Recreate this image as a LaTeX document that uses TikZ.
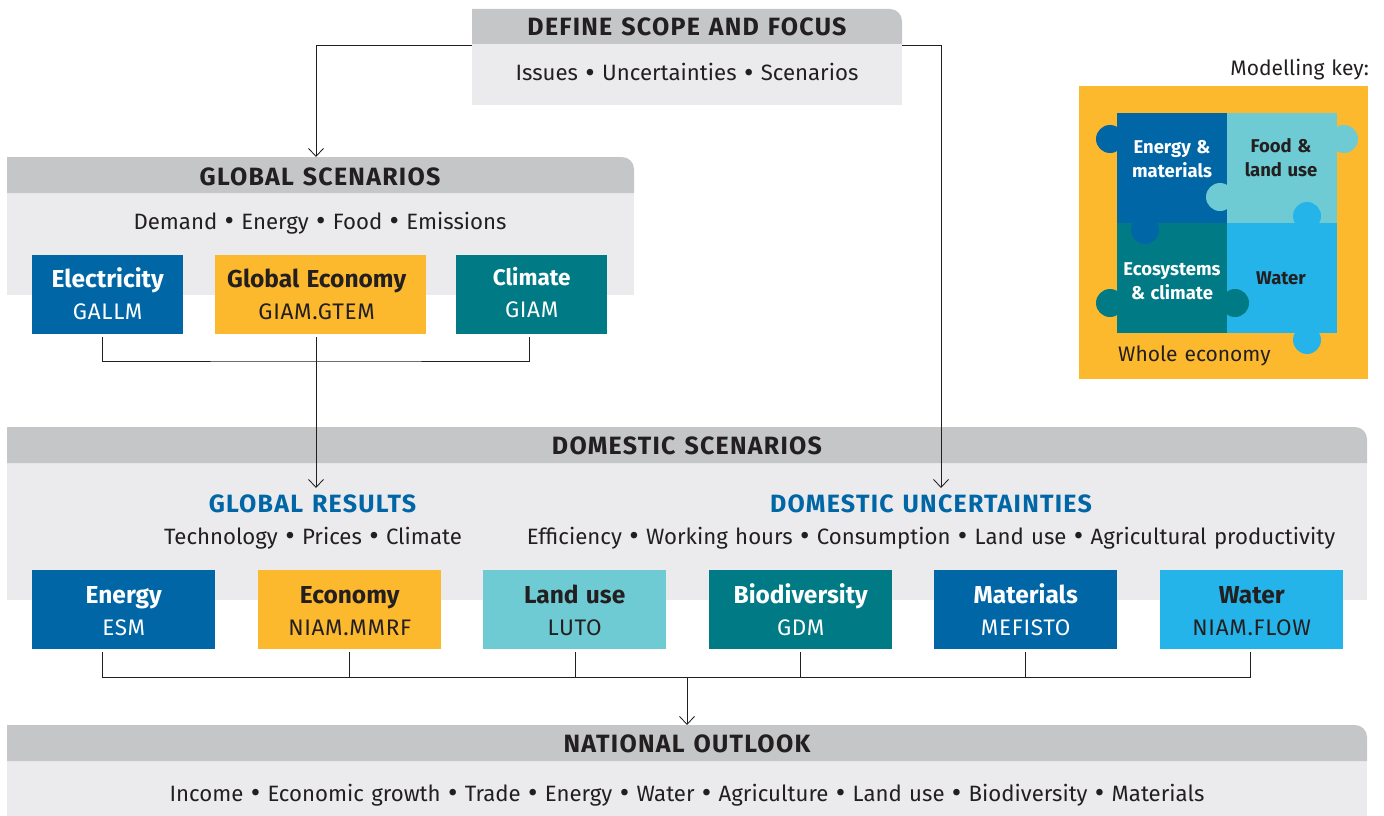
\documentclass[tikz,border=0pt]{standalone}
\usepackage{fontspec}
\setmainfont[WordSpace=1.25]{Fira Sans}
\usetikzlibrary{arrows.meta}
\definecolor{headgrey}{HTML}{C5C6C8}
\definecolor{bodygrey}{HTML}{EBEBEE}
\definecolor{inkdark}{HTML}{231F20}
\definecolor{deepblue}{HTML}{0066A6}
\definecolor{amber}{HTML}{FDB92E}
\definecolor{paleteal}{HTML}{6FCBD3}
\definecolor{seateal}{HTML}{007A85}
\definecolor{skyblue}{HTML}{25B4E9}
\newcommand{\bul}{\raisebox{-1.5pt}{\fontsize{29}{29}\selectfont •}}
\begin{document}
\begin{tikzpicture}[x=1pt, y=-1pt, >={Straight Barb[length=8pt,width=15pt]}]
      \tikzset{
  panelbody/.style={
    rectangle,
    fill=bodygrey,
    inner sep=0pt,
    anchor=north west
  },
  panelhead/.style={
    text=inkdark,
    inner sep=0pt,
    anchor=base,
    font=\fontsize{25}{29}\selectfont\bfseries\addfontfeature{LetterSpace=5}
  },
  paneltext/.style={
    text=inkdark,
    inner sep=0pt,
    anchor=base,
    font=\fontsize{22.2}{26}\selectfont
  },
  resulthead/.style={
    text=deepblue,
    inner sep=0pt,
    anchor=base,
    font=\fontsize{25}{29}\selectfont\bfseries\addfontfeature{LetterSpace=5}
  },
  modelbox/.style={
    rectangle,
    inner sep=0pt,
    anchor=north west,
    minimum height=79pt
  },
  modeltitle/.style={
    inner sep=0pt,
    anchor=base,
    font=\fontsize{24.5}{29}\selectfont\bfseries
  },
  modelname/.style={
    inner sep=0pt,
    anchor=base,
    font=\fontsize{22.5}{26}\selectfont\addfontfeature{LetterSpace=3}
  },
  keysquare/.style={
    rectangle,
    inner sep=0pt,
    minimum size=110pt,
    anchor=north west
  },
  keypeg/.style={
    circle,
    inner sep=0pt,
    minimum size=28pt
  },
  keytext/.style={
    inner sep=0pt,
    align=center,
    font=\fontsize{18.5}{24}\selectfont\bfseries
  },
  keynote/.style={
    inner sep=0pt,
    anchor=base,
    text=inkdark,
    font=\fontsize{21}{25}\selectfont
  },
  link/.style={
    draw=inkdark,
    line width=0.85pt
  }
}

\useasboundingbox (0,0) rectangle (1384,816);

% panels
\foreach \m/\x/\y/\w/\h in {scope/472/44/430/61,global/7/193/627/102,domestic/7/463/1360/137,outlook/7/761/1360/55}
  \node [panelbody, minimum width=\w, minimum height=\h] (\m-body) at (\x,\y) {};

\fill [headgrey] (472,44) -- (472,9) [rounded corners=12pt] -- (902,9) [sharp corners] -- (902,44) -- cycle;
\fill [headgrey] (7,193) -- (7,157) [rounded corners=12pt] -- (634,157) [sharp corners] -- (634,193) -- cycle;
\fill [headgrey] (7,463) -- (7,427) [rounded corners=12pt] -- (1367,427) [sharp corners] -- (1367,463) -- cycle;
\fill [headgrey] (7,761) -- (7,725) [rounded corners=12pt] -- (1367,725) [sharp corners] -- (1367,761) -- cycle;

\node [panelhead] (scope-head) at (687,36) {DEFINE SCOPE AND FOCUS};
\node [panelhead] (global-head) at (320,185) {GLOBAL SCENARIOS};
\node [panelhead] (domestic-head) at (687,454.5) {DOMESTIC SCENARIOS};
\node [panelhead] (outlook-head) at (687,752.5) {NATIONAL OUTLOOK};

\node [paneltext] (scope-list) at (687,81) {Issues \bul{} Uncertainties \bul{} Scenarios};
\node [paneltext] (global-list) at (320,229) {Demand \bul{} Energy \bul{} Food \bul{} Emissions};
\node [paneltext] (results-list) at (313,544) {Technology \bul{} Prices \bul{} Climate};
\node [paneltext] (uncertain-list) at (931,544) {Efficiency \bul{} Working hours \bul{} Consumption \bul{} Land use \bul{} Agricultural productivity};
\node [paneltext] (outlook-list) at (687,801) {Income \bul{} Economic growth \bul{} Trade \bul{} Energy \bul{} Water \bul{} Agriculture \bul{} Land use \bul{} Biodiversity \bul{} Materials};

\node [resulthead] (results-head) at (312.5,512) {GLOBAL RESULTS};
\node [resulthead] (uncertain-head) at (931,512) {DOMESTIC UNCERTAINTIES};

% model boxes
\foreach \m/\x/\w/\c/\t/\l/\n/\d/\a/\b in {
  elec/32/151/deepblue/white/Electricity/GALLM/0/7.5/-24.5,
  econ/215/211/amber/inkdark/Global Economy/GIAM.GTEM/-4/7.5/-24.5,
  clim/456/151/seateal/white/{\fontsize{22.5}{26}\selectfont Climate}/GIAM/0/9.5/-22.5}
{
  \node [modelbox, fill=\c, minimum width=\w] (\m) at (\x,255) {};
  \node [modeltitle, text=\t] (\m-title) at ([xshift=\d,yshift=\a]\m.center) {\l};
  \node [modelname, text=\t] (\m-name) at ([xshift=\d,yshift=\b]\m.center) {\n};
}

\foreach \m/\x/\c/\t/\l/\n in {
  energy/32/deepblue/white/Energy/ESM,
  economy/258/amber/inkdark/Economy/NIAM.MMRF,
  land/483/paleteal/inkdark/Land use/LUTO,
  biodiv/709/seateal/white/Biodiversity/GDM,
  mater/934/deepblue/white/Materials/MEFISTO,
  water/1160/skyblue/inkdark/Water/NIAM.FLOW}
{
  \node [modelbox, fill=\c, minimum width=183pt] (\m) at (\x,570) {};
  \node [modeltitle, text=\t] (\m-title) at ([yshift=6.5pt]\m.center) {\l};
  \node [modelname, text=\t] (\m-name) at ([yshift=-26pt]\m.center) {\n};
}

% modelling key
\node [panelbody, fill=amber, minimum width=289pt, minimum height=293pt] (key) at (1079,86) {};
\node [keynote, anchor=base east] (key-title) at (1369,76) {Modelling key:};
\node [keynote, anchor=base west] (key-whole) at (1118,361) {Whole economy};

\foreach \m/\x/\y/\c in {keyblue/1110/139/deepblue,keypale/1344/139/paleteal,keyteal/1110/303/seateal,keysky/1307/340/skyblue}
  \node [keypeg, fill=\c] (\m-out) at (\x,\y) {};

\node [keysquare, fill=deepblue] (keyblue) at (1117,113) {};
\node [keysquare, fill=paleteal] (keypale) at (1227,113) {};
\node [keysquare, fill=seateal] (keyteal) at (1117,223) {};
\node [keysquare, fill=skyblue] (keysky) at (1227,223) {};

\foreach \m/\x/\y/\c in {keypale/1220/197/paleteal,keysky/1307/216/skyblue,keyblue/1145/230/deepblue,keyteal/1235/303/seateal}
  \node [keypeg, fill=\c] (\m-in) at (\x,\y) {};

\node [keytext, text=white] (keyblue-text) at (1172,159) {Energy \&\\materials};
\node [keytext, text=inkdark] (keypale-text) at (1281,158) {Food \&\\land use};
\node [keytext, text=white] (keyteal-text) at (1172,281) {Ecosystems\\\& climate};
\node [keytext, text=inkdark] (keysky-text) at (1281,278) {Water};

% connectors
\coordinate (scope-west) at (472,45);
\coordinate (scope-east) at (902,45);
\coordinate (global-in) at (316,157);
\coordinate (results-in) at (316,488);
\coordinate (uncertain-in) at (941,488);
\coordinate (econ-out) at (316,337);
\coordinate (elec-out) at (102,337);
\coordinate (clim-out) at (529,337);
\coordinate (global-join) at (316,361);
\coordinate (domestic-join) at (687,677);
\coordinate (outlook-in) at (687,725);

\draw [link, ->] (scope-west) -| (global-in);
\draw [link, ->] (scope-east) -| (uncertain-in);
\draw [link, ->] (econ-out) -- (results-in);
\draw [link] (elec-out) |- (global-join) -| (clim-out);

\foreach \m/\d in {energy/-21.5,economy/-0.5,land/0.5,biodiv/-0.5,mater/-0.5,water/-1.5}
  \draw [link] ([xshift=\d,yshift=-3pt]\m.south) |- (domestic-join);
\draw [link, ->] (domestic-join) -- (outlook-in);
    \end{tikzpicture}
\end{document}
